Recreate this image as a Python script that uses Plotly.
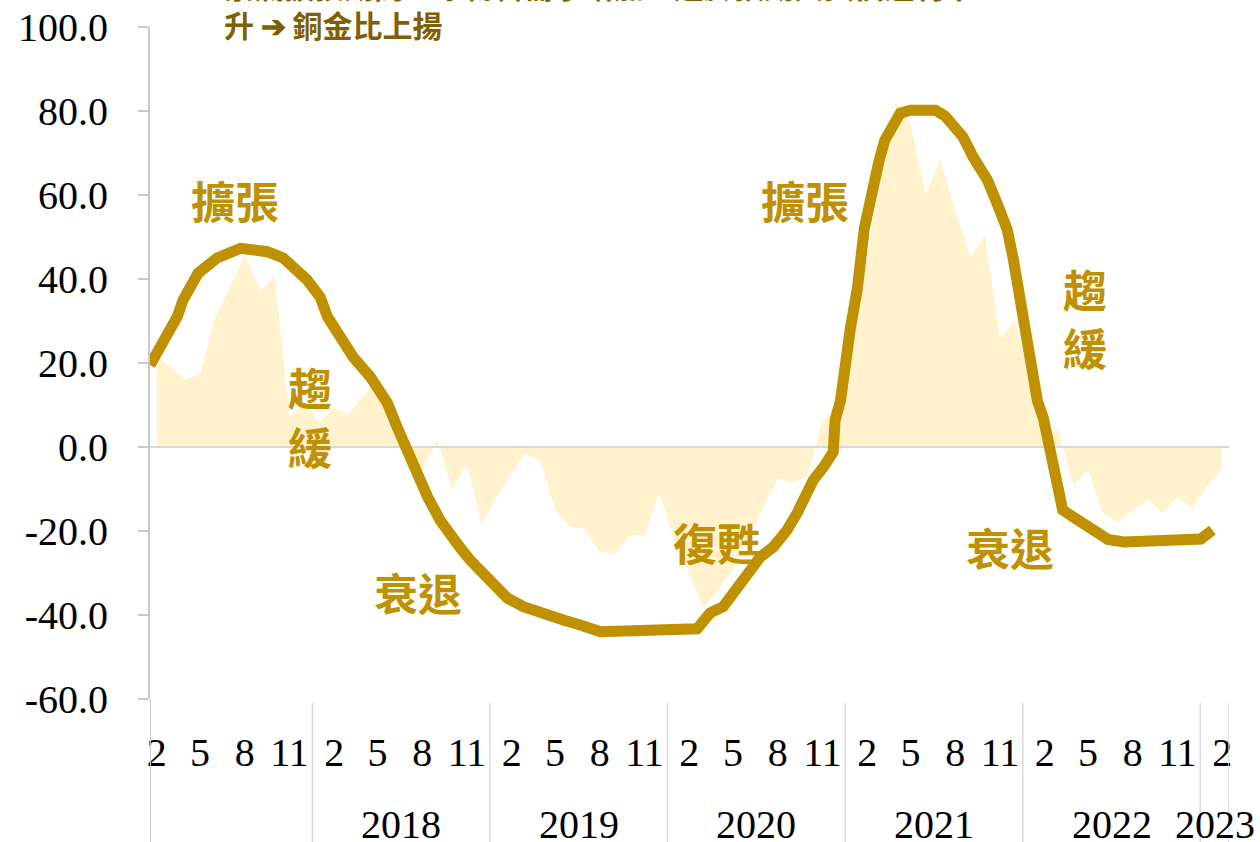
import plotly.graph_objects as go
import pandas as pd

# ---------------- data ----------------
# monthly categories: 2017-02 ... 2023-02
month_starts = list(pd.date_range("2017-02-01", "2023-02-01", freq="MS"))

area_values = [
    22, 19, 16, 17.4, 31, 38, 45.7, 37, 40.7, 7.1, 10.5,            # 2017 (Feb-Dec)
    5.7, 9.5, 7.6, 12, 16, 8, -0.5, -5.5, 1.7, -10, -4, -18.6,       # 2018
    -12, -6, -1.5, -3.3, -14.8, -19, -19.5, -25, -25.5, -21, -21, -11,  # 2019
    -22, -30, -38.3, -34, -29, -22, -15, -7.4, -8.6, -7, 6, 10,      # 2020
    25, 45, 66, 82.6, 77, 60, 68.6, 56, 45.2, 50.5, 25.5, 30,        # 2021
    18, 3, 4, -9, -5.5, -15.7, -18, -15, -12.6, -15.7, -12, -14.5,   # 2022
    -9.3, -5.2,                                                      # 2023
]

line_dates = [
    "2017-02-01", "2017-03-08", "2017-03-29", "2017-04-10", "2017-05-01", "2017-05-11",
    "2017-06-19", "2017-08-06", "2017-09-30", "2017-11-02", "2017-12-21",
    "2018-01-17", "2018-02-01", "2018-02-27", "2018-03-26", "2018-04-30", "2018-06-04",
    "2018-06-24", "2018-07-15", "2018-08-05", "2018-08-26", "2018-09-21", "2018-10-11",
    "2018-11-01", "2018-11-22", "2018-12-12",
    "2019-01-02", "2019-02-06", "2019-03-11", "2019-04-14", "2019-06-01", "2019-07-06",
    "2019-08-16",
    "2020-03-02", "2020-03-29", "2020-04-25", "2020-05-15", "2020-06-13", "2020-07-10",
    "2020-08-06", "2020-09-03", "2020-09-24", "2020-10-14", "2020-10-27", "2020-11-17",
    "2020-12-07", "2020-12-11", "2020-12-22",
    "2021-01-11", "2021-01-26", "2021-02-09", "2021-02-24", "2021-03-11", "2021-03-23",
    "2021-04-08", "2021-04-24", "2021-05-15", "2021-07-05", "2021-07-25", "2021-08-11",
    "2021-08-31", "2021-09-21", "2021-10-20", "2021-11-09", "2021-11-30", "2021-12-12",
    "2021-12-23",
    "2022-01-12", "2022-01-23", "2022-01-31", "2022-02-12", "2022-02-23", "2022-03-05",
    "2022-03-16", "2022-03-24", "2022-04-15", "2022-05-14", "2022-06-06", "2022-06-25",
    "2022-07-28", "2023-01-02", "2023-01-26",
]
line_values = [
    19.5, 26, 31, 35, 39, 41.4,
    45, 47.3, 46.5, 45, 39.8,
    35.7, 31, 26, 21.4, 16.7, 10.5,
    4.8, -0.7, -7, -11.9, -17.5, -21,
    -24, -27, -29.5,
    -32.4, -36, -38, -39.5, -41.2, -42.4,
    -44,
    -43.3, -39.5, -38, -34.8, -31, -26.2,
    -23.8, -19.8, -15.7, -11, -7.9, -4.8,
    -1.2, 6.4, 11,
    28, 38, 52, 61, 68, 73,
    77, 79.5, 80.2, 80.2, 78.8, 76.5,
    73.8, 69, 63.6, 58, 51.7, 45,
    37.4,
    22, 16, 11, 7, 0, -6,
    -12, -15, -16.7, -19, -20.5, -22,
    -22.6, -21.9, -19.8,
]

tick_months = [2, 5, 8, 11]
year_labels = ["2018", "2019", "2020", "2021", "2022", "2023"]
y_ticks = [100, 80, 60, 40, 20, 0, -20, -40, -60]

phase_labels = [
    ("擴張", 0.0791, 0.7426),
    ("趨", 0.1486, 0.4650),
    ("緩", 0.1486, 0.3760),
    ("衰退", 0.2486, 0.1592),
    ("復甦", 0.5257, 0.2336),
    ("擴張", 0.6072, 0.7426),
    ("趨", 0.8666, 0.6108),
    ("緩", 0.8666, 0.5233),
    ("衰退", 0.7970, 0.2262),
]
note_line1 = "景氣擴張期間，原物料需求增加、通膨預期與美債殖利率上"
note_line2 = "升 ➔ 銅金比上揚"

# ---------------- derived ----------------
area_dates = [d + pd.Timedelta(days=14) for d in month_starts]
x_start = month_starts[0]
x_end = month_starts[-1] + pd.offsets.MonthBegin(1)

tickvals = [d for d in area_dates if d.month in tick_months]
ticktext = [str(d.month) for d in tickvals]

GOLD = "#BF9000"
FILL = "#FFF2CC"
SERIF = "Liberation Serif, Times New Roman, serif"
CJK = "Noto Sans CJK TC"

fig = go.Figure()
fig.add_trace(go.Scatter(
    x=area_dates, y=area_values, mode="lines",
    line=dict(width=0, color=FILL), fill="tozeroy", fillcolor=FILL,
    showlegend=False, hoverinfo="skip",
))
# zero reference line drawn between area and line
fig.add_trace(go.Scatter(
    x=[x_start, x_end], y=[0, 0], mode="lines",
    line=dict(width=2, color="#D9D9D9"), showlegend=False, hoverinfo="skip",
))
fig.add_trace(go.Scatter(
    x=pd.to_datetime(line_dates), y=line_values, mode="lines",
    line=dict(width=11, color=GOLD), showlegend=False,
))

fig.update_layout(
    width=1260, height=842,
    margin=dict(l=150, r=31, t=27, b=143, autoexpand=False),
    paper_bgcolor="white", plot_bgcolor="white",
    showlegend=False,
)
fig.update_xaxes(
    type="date", range=[x_start, x_end], automargin=False,
    tickmode="array", tickvals=tickvals, ticktext=ticktext,
    tickfont=dict(family=SERIF, size=40, color="black"),
    showgrid=False, zeroline=False, showline=False, ticks="",
    ticklabelstandoff=26,
)
fig.update_yaxes(
    range=[-60, 100], tickmode="array", tickvals=y_ticks, automargin=False,
    ticktext=[f"{v:.1f}" for v in y_ticks],
    tickfont=dict(family=SERIF, size=40, color="black"),
    showgrid=False, zeroline=False,
    showline=True, linecolor="#C8C8C8", linewidth=2,
    ticks="outside", ticklen=10, tickwidth=2, tickcolor="#C8C8C8",
    ticklabelstandoff=22,
)

# year separators and labels under the axis
year_starts = [pd.Timestamp(f"{y}-01-01") for y in year_labels]
for xs in [x_start] + year_starts + [x_end]:
    fig.add_shape(type="line", xref="x", yref="paper", x0=xs, x1=xs,
                  y0=-0.006 if xs != x_start else 0, y1=-0.22,
                  line=dict(color="#D9D9D9" if xs != x_start else "#C8C8C8",
                            width=1.5 if xs != x_start else 2))
for lab, ys in zip(year_labels, year_starts):
    ye = min(ys + pd.DateOffset(years=1), x_end)
    xm = ys + (ye - ys) / 2
    fig.add_annotation(x=xm, y=-0.187, xref="x", yref="paper", text=lab,
                       showarrow=False, xanchor="center", yanchor="middle",
                       font=dict(family=SERIF, size=40, color="black"))

for txt, px, py in phase_labels:
    fig.add_annotation(x=px, y=py, xref="paper", yref="paper", text=txt,
                       showarrow=False, xanchor="center", yanchor="middle",
                       font=dict(family=CJK, size=44, color=GOLD, weight="bold"))

fig.add_annotation(x=0.0671, y=1.062, xref="paper", yref="paper", text=note_line1,
                   showarrow=False, xanchor="left", yanchor="middle",
                   font=dict(family=CJK, size=30, color="#7F6000", weight="bold"))
fig.add_annotation(x=0.0671, y=1.004, xref="paper", yref="paper", text=note_line2,
                   showarrow=False, xanchor="left", yanchor="middle",
                   font=dict(family=CJK, size=30, color="#7F6000", weight="bold"))

fig.write_html("out.html")
